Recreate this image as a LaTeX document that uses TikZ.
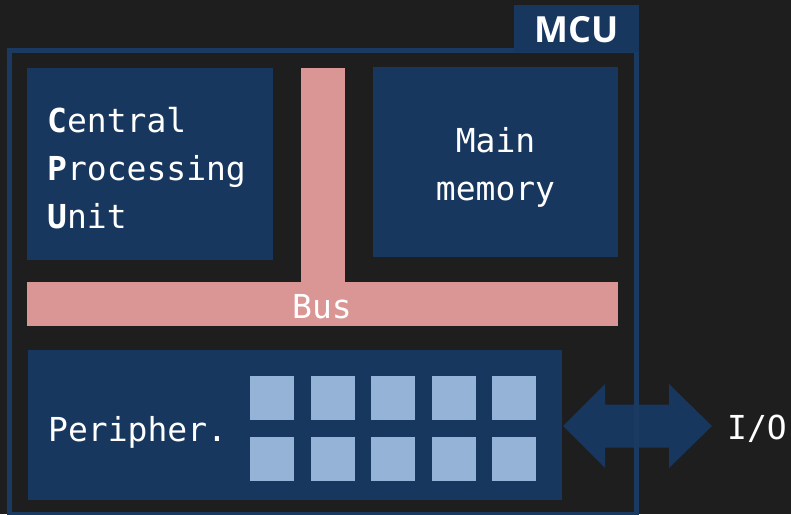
\documentclass[tikz,border=0pt]{standalone}
\usepackage{fontspec}
\newfontfamily\monof{DejaVu Sans Mono}
\newfontfamily\headf{Open Sans}
\definecolor{bgc}{RGB}{30,30,30}
\definecolor{mcublue}{RGB}{23,55,94}
\definecolor{mcuedge}{RGB}{26,58,98}
\definecolor{sqc}{RGB}{149,179,215}
\definecolor{busc}{RGB}{218,150,148}
\begin{document}
\begin{tikzpicture}[x=1pt,y=-1pt,
  blk/.style={fill=mcublue, draw=none, inner sep=0pt, outer sep=0pt},
  busbar/.style={fill=busc, draw=none, inner sep=0pt, outer sep=0pt},
  sq/.style={fill=sqc, draw=none, inner sep=0pt, outer sep=0pt, minimum width=44pt, minimum height=44pt},
  txt/.style={text=white, font=\monof\fontsize{33}{48}\selectfont, inner sep=0pt}]
\useasboundingbox (0,0) rectangle (791,514);
\fill[bgc] (0,0) rectangle (791,514);
% blocks
\node[blk, minimum width=246pt, minimum height=192pt] (cpu) at (150,164) {};
\node[blk, minimum width=245pt, minimum height=190pt] (mem) at (495.5,162) {};
\node[blk, minimum width=534pt, minimum height=150pt] (per) at (295,425) {};
% bus
\node[busbar, minimum width=44pt, minimum height=216pt] (busv) at (323,176) {};
\node[busbar, minimum width=591pt, minimum height=44pt] (bush) at (322.5,304) {};
% squares
\foreach \i in {0,...,4}{
  \node[sq] (sa\i) at ({272+60.5*\i},398) {};
  \node[sq] (sb\i) at ({272+60.5*\i},459) {};
}
% arrow
\fill[mcublue] (563,426) -- (605,384) -- (605,404.5) -- (669,404.5) -- (669,384) -- (712,426)
  -- (669,468) -- (669,447.5) -- (605,447.5) -- (605,468) -- cycle;
% MCU border
\draw[line width=5pt, mcuedge] (9.5,50.5) rectangle (636,514.5);
\node[blk, minimum width=125pt, minimum height=47pt] (lab) at (576.5,28.5) {};
\node[text=white, font=\headf\bfseries\fontsize{36}{40}\selectfont, inner sep=0pt] (mcut) at (576.5,30) {MCU};
% texts
\node[txt, align=left, anchor=west] (cput) at (47,168) {\textbf{C}entral\\\textbf{P}rocessing\\\textbf{U}nit};
\node[txt, align=center] (memt) at (495.5,167) {Main\\memory};
\node[txt] (bust) at (322,307) {Bus};
\node[txt, anchor=west] (pert) at (48,432) {Peripher.};
\node[txt, anchor=west] (iot) at (727,429) {I/O};
\end{tikzpicture}
\end{document}
